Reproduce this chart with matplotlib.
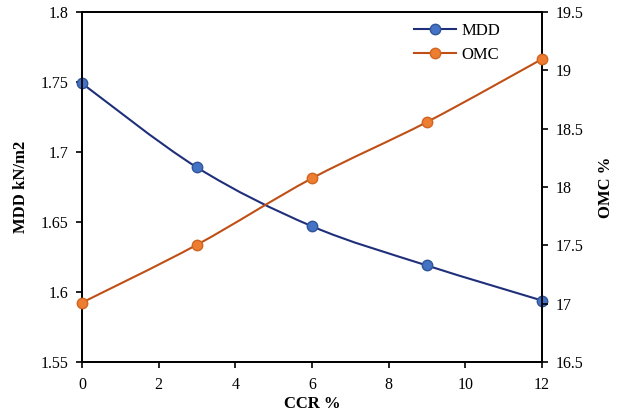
import matplotlib
matplotlib.use("Agg")
import matplotlib.pyplot as plt
from matplotlib.path import Path
from matplotlib.patches import PathPatch
from matplotlib.lines import Line2D
import numpy as np

plt.rcParams['font.family'] = ['Liberation Serif', 'DejaVu Serif']
plt.rcParams['font.size'] = 11.5

ccr = [0, 3, 6, 9, 12]
mdd = [1.749, 1.689, 1.647, 1.619, 1.594]
omc = [17.01, 17.506, 18.075, 18.557, 19.096]


def smooth_path(x, y):
    # Excel-like smoothed line: Catmull-Rom segments as cubic beziers
    x = np.asarray(x, float)
    y = np.asarray(y, float)
    verts = [(x[0], y[0])]
    codes = [Path.MOVETO]
    n = len(x)
    for i in range(n - 1):
        p0 = np.array([x[max(i - 1, 0)], y[max(i - 1, 0)]])
        p1 = np.array([x[i], y[i]])
        p2 = np.array([x[i + 1], y[i + 1]])
        p3 = np.array([x[min(i + 2, n - 1)], y[min(i + 2, n - 1)]])
        c1 = p1 + (p2 - p0) / 6
        c2 = p2 - (p3 - p1) / 6
        verts += [tuple(c1), tuple(c2), tuple(p2)]
        codes += [Path.CURVE4] * 3
    return Path(verts, codes)


fig = plt.figure(figsize=(6.19, 4.12), dpi=100)
ax = fig.add_axes([0.1325, 0.121, 0.743, 0.850])
ax2 = ax.twinx()

mdd_line = '#1F2F7A'
mdd_face = '#4472C4'
omc_line = '#C04F15'
omc_face = '#ED7D31'

ax.add_patch(PathPatch(smooth_path(ccr, mdd), facecolor='none', edgecolor=mdd_line, lw=1.5, zorder=2))
ax.plot(ccr, mdd, 'o', ms=7.5, mfc=mdd_face, mec='#2F5597', mew=1, zorder=3, clip_on=False)

ax2.add_patch(PathPatch(smooth_path(ccr, omc), facecolor='none', edgecolor=omc_line, lw=1.5, zorder=2))
ax2.plot(ccr, omc, 'o', ms=7.5, mfc=omc_face, mec='#D0651F', mew=1, zorder=3, clip_on=False)

ax.set_xlim(0, 12)
ax.set_ylim(1.55, 1.8)
ax2.set_ylim(16.5, 19.5)
ax.set_xticks([0, 2, 4, 6, 8, 10, 12])
ax.set_yticks([1.55, 1.6, 1.65, 1.7, 1.75, 1.8])
ax.set_yticklabels(['1.55', '1.6', '1.65', '1.7', '1.75', '1.8'])
ax2.set_yticks([16.5, 17, 17.5, 18, 18.5, 19, 19.5])
ax2.set_yticklabels(['16.5', '17', '17.5', '18', '18.5', '19', '19.5'])

for a in (ax, ax2):
    a.tick_params(direction='out', length=4, width=1.2, colors='black', labelsize=11.5, pad=6)
    for s in a.spines.values():
        s.set_linewidth(1.3)
ax.tick_params(axis='x', pad=7)

ax.set_xlabel('CCR %', fontweight='bold', fontsize=12, labelpad=2)
ax.set_ylabel('MDD kN/m2', fontweight='bold', fontsize=12, labelpad=8)
ax2.set_ylabel('OMC %', fontweight='bold', fontsize=12, labelpad=10)

handles = [
    Line2D([], [], color=mdd_line, lw=1.5, marker='o', ms=7.5, mfc=mdd_face, mec='#2F5597'),
    Line2D([], [], color=omc_line, lw=1.5, marker='o', ms=7.5, mfc=omc_face, mec='#D0651F'),
]
ax2.legend(handles, ['MDD', 'OMC'], loc='upper left', bbox_to_anchor=(0.69, 1.012),
           frameon=False, fontsize=12, handlelength=2.5, handletextpad=0.3, labelspacing=0.5)

fig.savefig('out.png', dpi=100)
